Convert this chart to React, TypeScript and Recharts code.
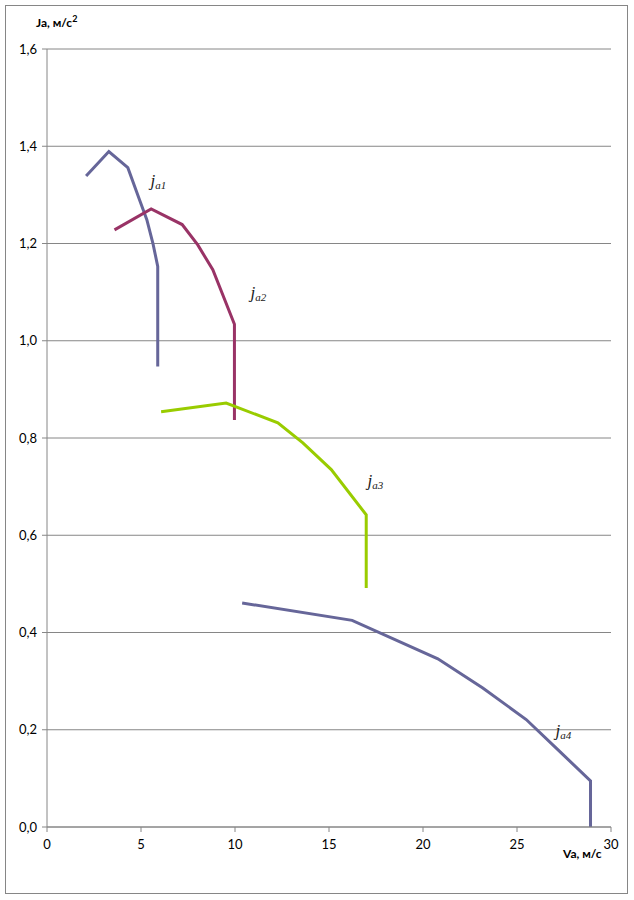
import React from "react";
import { LineChart, Line, XAxis, YAxis, CartesianGrid, ReferenceDot, Customized } from "recharts";

// speed Va (m/s) and acceleration Ja (m/s^2) per gear
const ja1V = [2.08, 3.29, 4.3, 4.92, 5.31, 5.63, 5.89, 5.89];
const ja1J = [1.339, 1.389, 1.356, 1.29, 1.249, 1.201, 1.153, 0.947];

const ja2V = [3.59, 5.54, 7.19, 8.02, 8.82, 9.97, 9.97];
const ja2J = [1.228, 1.271, 1.239, 1.197, 1.146, 1.034, 0.837];

const ja3V = [6.07, 9.53, 12.28, 13.61, 15.12, 16.98, 16.98];
const ja3J = [0.854, 0.872, 0.831, 0.79, 0.735, 0.642, 0.4915];

const ja4V = [10.38, 16.23, 20.79, 23.18, 25.49, 27.17, 28.91, 28.91];
const ja4J = [0.4607, 0.425, 0.346, 0.286, 0.221, 0.159, 0.095, 0.0];

const xTicks = [0, 5, 10, 15, 20, 25, 30];
const yTicks = [0, 0.2, 0.4, 0.6, 0.8, 1.0, 1.2, 1.4, 1.6];

const curveNames = ["a1", "a2", "a3", "a4"];
const labelV = [5.5, 10.82, 17.05, 27.05];
const labelJ = [1.319, 1.088, 0.702, 0.188];

const colors = ["#666699", "#993366", "#99CC00", "#666699"];

const zip = (v: number[], j: number[]) => v.map((x, i) => ({ v: x, j: j[i] }));
const series = [zip(ja1V, ja1J), zip(ja2V, ja2J), zip(ja3V, ja3J), zip(ja4V, ja4J)];

const tickFont = "Lato, 'Open Sans', sans-serif";
const fmtY = (n: number) => n.toFixed(1).replace(".", ",");

const Titles = () => (
  <g>
    <rect x={5.5} y={5.5} width={622} height={888} fill="none" stroke="#868686" strokeWidth={1} />
    <text x={36} y={27} fontFamily={tickFont} fontWeight="bold" fontSize={12} fill="#000">
      Ja, м/с<tspan fontSize={9} dy={-5}>2</tspan>
    </text>
    <text x={563} y={858} fontFamily={tickFont} fontWeight="bold" fontSize={12} fill="#000">
      Va, м/с
    </text>
  </g>
);

export default function App() {
  return (
    <div style={{ position: "absolute", left: 0, top: 0, width: 634, height: 900, background: "#fff" }}>
      <LineChart width={634} height={900} margin={{ top: 49, right: 23, bottom: 0, left: 0 }}>
        <CartesianGrid vertical={false} stroke="#868686" strokeWidth={1} />
        <XAxis
          type="number"
          dataKey="v"
          domain={[0, 30]}
          ticks={xTicks}
          allowDataOverflow
          stroke="#868686"
          tickSize={5}
          tickMargin={8}
          tick={{ fill: "#000", fontSize: 13, fontFamily: tickFont }}
          height={73}
        />
        <YAxis
          type="number"
          dataKey="j"
          domain={[0, 1.6]}
          ticks={yTicks}
          allowDataOverflow
          tickFormatter={fmtY}
          stroke="#868686"
          tickSize={5}
          tickMargin={5}
          width={47}
          tick={{ fill: "#000", fontSize: 13, fontFamily: tickFont }}
        />
        {series.map((d, i) => (
          <Line
            key={i}
            data={d}
            dataKey="j"
            type="linear"
            stroke={colors[i]}
            strokeWidth={3}
            dot={false}
            activeDot={false}
            isAnimationActive={false}
          />
        ))}
        {curveNames.map((name, i) => (
          <ReferenceDot
            key={name}
            x={labelV[i]}
            y={labelJ[i]}
            r={0}
            ifOverflow="visible"
            shape={(p: any) => (
              <text
                x={p.cx}
                y={p.cy}
                fontFamily="'Liberation Serif', 'DejaVu Serif', serif"
                fontStyle="italic"
                fontSize={17}
                fill="#1a1a1a"
              >
                j
                <tspan fontSize={11} dy={3}>
                  {name}
                </tspan>
              </text>
            )}
          />
        ))}
        <Customized component={Titles} />
      </LineChart>
    </div>
  );
}
